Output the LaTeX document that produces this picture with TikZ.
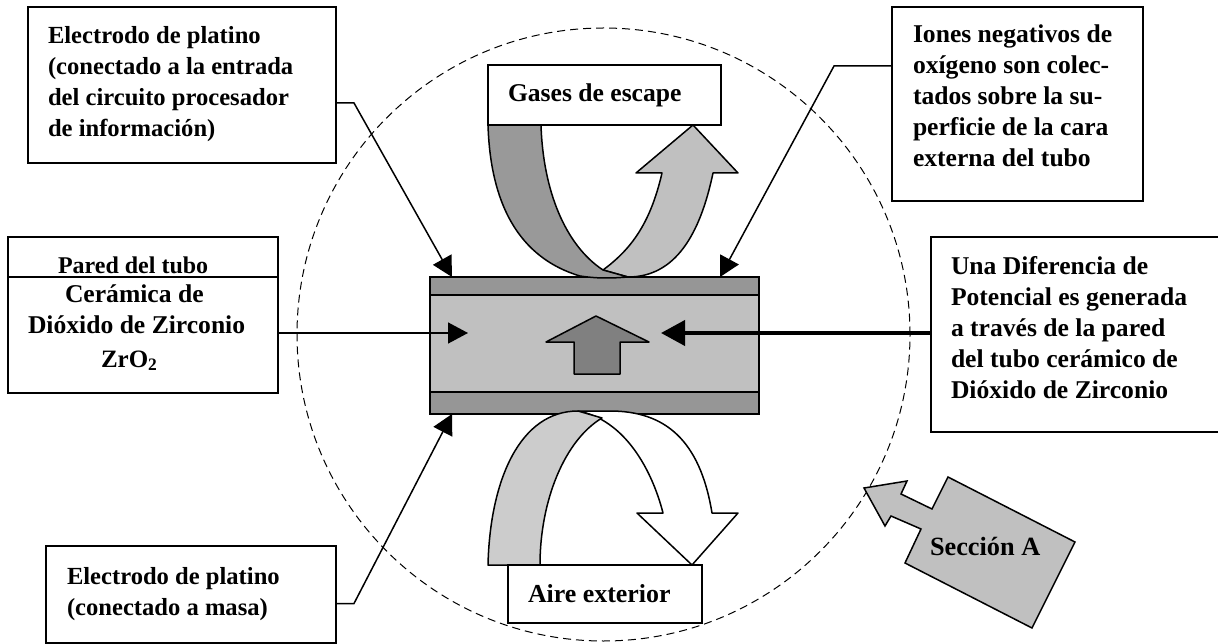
\documentclass[tikz,border=0pt]{standalone}
\usepackage{fontspec}
\setmainfont{Liberation Serif}
\usetikzlibrary{arrows.meta}
\definecolor{bandgray}{HTML}{969696}
\definecolor{wallgray}{HTML}{C0C0C0}
\definecolor{midgray}{HTML}{808080}
\definecolor{airgray}{HTML}{CCCCCC}
\definecolor{flowgray}{HTML}{999999}
\tikzset{
  lw/.style={line width=1.5pt,line join=miter},
  boxnode/.style={lw,draw=black,fill=white,inner sep=0pt,outer sep=0pt},
  txt/.style={font=\fontsize{#1}{31}\selectfont\bfseries,inner sep=0pt,outer sep=0pt,anchor=base west,align=left,text=black},
  txt/.default=25.6,
  conn/.style={lw,-{Triangle[length=20pt,width=21pt]}},
  thickconn/.style={line width=4pt,-{Triangle[length=24pt,width=25pt]}},
  flow/.style={lw,draw=black,line join=round},
}
\begin{document}
\begin{tikzpicture}[x=1pt,y=-1pt]
\useasboundingbox (0,0) rectangle (1218,644);
\fill[white] (0,0) rectangle (1218,644);

% dashed section circle
\draw[line width=1pt,dash pattern=on 8pt off 5pt] (603.5,334.5) circle [radius=306.5pt];

% tube
\node[boxnode,fill=bandgray,minimum width=329pt,minimum height=137pt] (tube) at (594.5,345.5) {};
\node[boxnode,fill=wallgray,minimum width=329pt,minimum height=97pt] (wall) at (594.5,343.5) {};
\draw[flow,fill=midgray] (596,316) -- (649,342) -- (620,342) -- (620,374) -- (574,374) -- (574,342) -- (546,342) -- cycle;

% flow arrows, top
\draw[flow,fill=wallgray] (713,173) .. controls (700,235) and (675,277) .. (628,277)
  -- (603,270) .. controls (630,250) and (650,225) .. (662,173)
  -- (636,173) -- (693,125) -- (738,173) -- cycle;
\draw[flow,fill=flowgray] (488,125) .. controls (490,190) and (510,255) .. (580,276)
  .. controls (600,279) and (615,278) .. (628,277)
  -- (603,270) .. controls (565,245) and (543,190) .. (541,125) -- cycle;

% flow arrows, bottom
\draw[flow,fill=white] (578,411) .. controls (625,420) and (652,470) .. (663,513)
  -- (637,513) -- (692,565) -- (738,513) -- (712,513)
  .. controls (700,440) and (665,411) .. (610,411) -- cycle;
\draw[flow,fill=airgray] (488,565) .. controls (490,480) and (520,411) .. (578,411)
  -- (602,418) .. controls (565,440) and (540,500) .. (540,565) -- cycle;

% boxes
\node[boxnode,minimum width=308pt,minimum height=156pt] (tl) at (182,85) {};
\node[boxnode,minimum width=251pt,minimum height=194pt] (tr) at (1017.5,104) {};
\node[boxnode,minimum width=270pt,minimum height=156pt] (lf) at (143,315) {};
\node[fill=white,inner sep=0pt,outer sep=0pt,minimum width=287pt,minimum height=195pt] (rt) at (1074.5,334.5) {};
\draw[lw] (rt.north east) -- (rt.north west) -- (rt.south west) -- (rt.south east);
\node[boxnode,minimum width=290pt,minimum height=97pt] (bl) at (191,594.5) {};
\node[boxnode,minimum width=233pt,minimum height=60pt] (gas) at (604.5,95) {};
\node[boxnode,minimum width=194pt,minimum height=58pt] (air) at (605,594) {};
\draw[lw] (lf.west |- 0,277) -- (lf.east |- 0,277);

% connector anchors
\coordinate (tlout) at (336,103);
\coordinate (tlbend) at (354,103);
\coordinate (tltip) at (452,277);
\coordinate (trout) at (892,66);
\coordinate (trbend) at (834,66);
\coordinate (trtip) at (720,277);
\coordinate (lfout) at (278,333);
\coordinate (lftip) at (468,333);
\coordinate (rtout) at (931,333);
\coordinate (rttip) at (661,333);
\coordinate (blout) at (336,603.5);
\coordinate (blbend) at (354,603.5);
\coordinate (bltip) at (452,414);

\draw[conn] (tlout) -- (tlbend) -- (tltip);
\draw[conn] (trout) -- (trbend) -- (trtip);
\draw[conn] (lfout) -- (lftip);
\draw[thickconn] (rtout) -- (rttip);
\draw[conn] (blout) -- (blbend) -- (bltip);

% section arrow
\draw[flow,line join=miter,fill=wallgray] (864,488) -- (907,481) -- (901,494) -- (932,509) -- (948,477)
  -- (1075,542) -- (1032,628) -- (905,563) -- (921,529) -- (891,516) -- (885,526) -- cycle;

% texts
\node[txt=24.6] (tltxt) at (48,137) {Electrodo de platino\\(conectado a la entrada\\del circuito procesador\\de información)};
\node[txt] (trtxt) at (913,167) {Iones negativos de\\oxígeno son colec-\\tados sobre la su-\\perficie de la cara\\externa del tubo};
\node[txt] (rttxt) at (951,398) {Una Diferencia de\\Potencial es generada\\a través de la pared\\del tubo cerámico de\\Dióxido de Zirconio};
\node[txt=24] (lfhead) at (58,274) {Pared del tubo};
\node[txt] (lf1) at (65,303) {Cerámica de};
\node[txt] (lf2) at (28,334) {Dióxido de Zirconio};
\node[txt=25] (lf3) at (101,367) {ZrO\textsubscript{2}};
\node[txt=24.6] (bltxt) at (67,615) {Electrodo de platino\\(conectado a masa)};
\node[txt] (gastxt) at (508,102) {Gases de escape};
\node[txt=25.9] (airtxt) at (528,602) {Aire exterior};
\node[txt=26.3] (sectxt) at (930,555) {Sección A};
\end{tikzpicture}
\end{document}
